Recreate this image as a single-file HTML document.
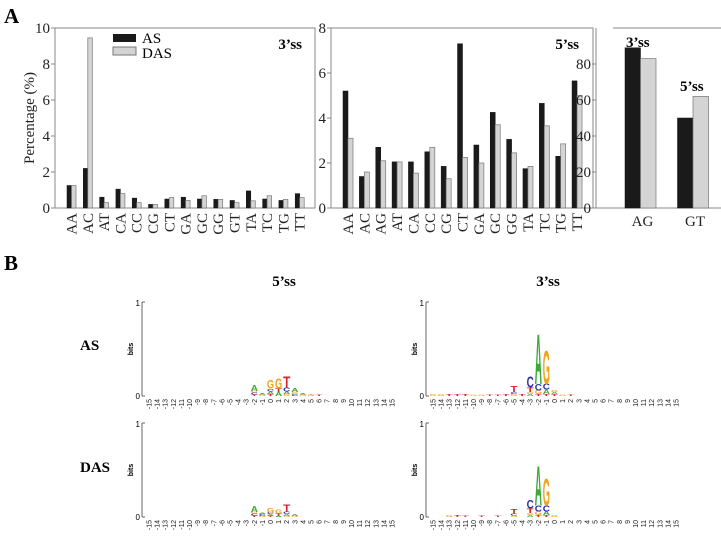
<!DOCTYPE html>
<html><head><meta charset="utf-8"><style>
html,body{margin:0;padding:0;background:#fff}
svg{display:block}
.s{font-family:"Liberation Serif",serif}
.a{font-family:"Liberation Sans",sans-serif}
</style></head><body>
<svg id="fig" width="721" height="541" viewBox="0 0 721 541" xmlns="http://www.w3.org/2000/svg">
<text class="s" x="4" y="23" font-size="21" font-weight="bold">A</text>
<text class="s" x="4" y="270" font-size="21" font-weight="bold">B</text>
<g id="chartL"></g>
<g id="chartM"></g>
<g id="chartR"></g>
<g id="logos"></g>
</svg>
<script>
const NS="http://www.w3.org/2000/svg";
const cats3=["AA","AC","AT","CA","CC","CG","CT","GA","GC","GG","GT","TA","TC","TG","TT"];
const as3=[1.25,2.2,0.6,1.05,0.55,0.2,0.5,0.6,0.5,0.48,0.42,0.95,0.5,0.42,0.8];
const das3=[1.25,9.45,0.3,0.8,0.3,0.2,0.58,0.42,0.68,0.48,0.3,0.4,0.68,0.48,0.58];
const ticks3=[0,2,4,6,8,10];
const cats5=["AA","AC","AG","AT","CA","CC","CG","CT","GA","GC","GG","TA","TC","TG","TT"];
const as5=[5.2,1.4,2.7,2.05,2.05,2.5,1.85,7.3,2.8,4.25,3.05,1.75,4.65,2.3,5.65];
const das5=[3.1,1.6,2.1,2.05,1.55,2.7,1.3,2.25,2.0,3.7,2.45,1.85,3.65,2.85,5.0];
const ticks5=[0,2,4,6,8];
const catsR=["AG","GT"];
const asR=[89,50];
const dasR=[83,62];
const ticksR=[0,20,40,60,80];
// logo stacks: position -> list of [letter, bits] bottom to top
const logoAS5={"-2":[["T",0.015],["C",0.02],["G",0.02],["A",0.06]],"-1":[["G",0.015],["A",0.015]],"0":[["T",0.02],["A",0.03],["C",0.03],["G",0.09]],"1":[["A",0.04],["T",0.04],["G",0.11]],"2":[["G",0.02],["A",0.03],["C",0.04],["T",0.12]],"3":[["C",0.02],["G",0.02],["A",0.04]],"4":[["G",0.015],["A",0.01]],"5":[["G",0.01],["T",0.005]],"6":[["T",0.01]]};
const logoAS3={"-15":[["G",0.02]],"-14":[["G",0.02]],"-13":[["T",0.02]],"-12":[["T",0.02]],"-11":[["T",0.02]],"-10":[["G",0.01]],"-9":[["G",0.01]],"-8":[["T",0.01]],"-7":[["T",0.015]],"-6":[["T",0.02]],"-5":[["G",0.02],["C",0.02],["T",0.06]],"-4":[["T",0.02]],"-3":[["A",0.02],["G",0.02],["T",0.05],["C",0.12]],"-2":[["T",0.02],["G",0.04],["C",0.07],["A",0.55]],"-1":[["T",0.02],["A",0.05],["C",0.06],["G",0.37]],"0":[["T",0.02],["A",0.02],["G",0.02]],"1":[["G",0.015]],"2":[["T",0.01]]};
const logoDAS5={"-2":[["T",0.015],["C",0.02],["G",0.02],["A",0.06]],"-1":[["G",0.01],["C",0.02],["A",0.015]],"0":[["T",0.01],["A",0.02],["C",0.02],["G",0.05]],"1":[["A",0.015],["T",0.02],["G",0.04]],"2":[["G",0.01],["A",0.02],["C",0.03],["T",0.08]],"3":[["G",0.01],["A",0.02]]};
const logoDAS3={"-13":[["G",0.02]],"-12":[["T",0.02]],"-11":[["T",0.01]],"-9":[["T",0.01]],"-7":[["T",0.01]],"-5":[["G",0.015],["C",0.02],["T",0.05]],"-3":[["A",0.02],["G",0.02],["T",0.05],["C",0.09]],"-2":[["T",0.02],["G",0.04],["C",0.06],["A",0.43]],"-1":[["T",0.02],["A",0.04],["C",0.06],["G",0.3]],"0":[["G",0.02]]};
const posLabels=[-15,-14,-13,-12,-11,-10,-9,-8,-7,-6,-5,-4,-3,-2,-1,0,1,2,3,4,5,6,7,8,9,10,11,12,13,14,15];

function mk(parent,tag,attrs,txt){const e=document.createElementNS(NS,tag);for(const k in attrs)e.setAttribute(k,attrs[k]);if(txt!==undefined)e.textContent=txt;parent.appendChild(e);return e;}

function barChart(gid,cats,as,das,ticks,o){
  const g=document.getElementById(gid);
  const y=v=>o.y0-(v/o.max)*(o.y0-o.yTop);
  const x=i=>o.c0+o.step*i;
  if(o.box){
    const r=mk(g,'rect',{x:o.x0,y:o.yTop,width:o.x1-o.x0,height:o.y0-o.yTop,fill:'none',stroke:'#888','stroke-width':1});
    
  } else {
    mk(g,'line',{x1:o.x0,y1:o.y0,x2:o.x0,y2:o.yTop,stroke:'#888'});
    mk(g,'line',{x1:o.x0,y1:o.y0,x2:721,y2:o.y0,stroke:'#888'});
    mk(g,'line',{x1:o.x0+17,y1:o.yTop,x2:721,y2:o.yTop,stroke:'#888'});
  }
  ticks.forEach(t=>{
    mk(g,'line',{x1:o.x0-4,y1:y(t),x2:o.x0,y2:y(t),stroke:'#888'});
    const tx=mk(g,'text',{x:o.x0-5,y:y(t)+5,'text-anchor':'end','font-size':15,class:'s',fill:'#222'},String(t));
    
  });
  cats.forEach((c,i)=>{
    const b1=mk(g,'rect',{x:x(i)-o.bw,y:y(as[i]),width:o.bw,height:o.y0-y(as[i]),fill:'#1a1a1a',stroke:'#111','stroke-width':0.5});
    
    
    const b2=mk(g,'rect',{x:x(i),y:y(das[i]),width:o.bw,height:o.y0-y(das[i]),fill:'#d4d4d4',stroke:'#777','stroke-width':0.7});
    
    
    let lab;
    if(o.rot){lab=mk(g,'text',{transform:`translate(${x(i)+5},${o.y0+5}) rotate(-90)`,'text-anchor':'end','font-size':15,class:'s',fill:'#222'},c);}
    else{lab=mk(g,'text',{x:x(i)+2,y:o.y0+18,'text-anchor':'middle','font-size':15,class:'s',fill:'#222'},c);}
    
    
  });
}
barChart('chartL',cats3,as3,das3,ticks3,{x0:55,x1:315,y0:208,yTop:28,max:10,c0:71.5,step:16.3,bw:4.5,box:true,rot:true});
barChart('chartM',cats5,as5,das5,ticks5,{x0:331,x1:593,y0:208,yTop:28,max:8,c0:348,step:16.36,bw:5,box:true,rot:true});
barChart('chartR',catsR,asR,dasR,ticksR,{x0:596,y0:208,yTop:28,max:100,c0:640.5,step:52.5,bw:15.5,box:false,rot:false});

(function(){
  const g=document.getElementById('chartL');
  let e=mk(g,'rect',{x:113,y:34,width:23,height:8,fill:'#1a1a1a'});
  e=mk(g,'text',{x:142,y:43,'font-size':15,class:'s'},'AS');
  e=mk(g,'rect',{x:113,y:47,width:23,height:8,fill:'#d4d4d4',stroke:'#777'});
  e=mk(g,'text',{x:142,y:58,'font-size':15,class:'s'},'DAS');
  e=mk(g,'text',{x:302,y:49,'font-size':15,'font-weight':'bold','text-anchor':'end',class:'s'},'3’ss');
  e=mk(g,'text',{transform:'translate(34,118) rotate(-90)','font-size':15,'text-anchor':'middle',class:'s',fill:'#222'},'Percentage (%)');
  const m=document.getElementById('chartM');
  e=mk(m,'text',{x:579,y:49,'font-size':15,'font-weight':'bold','text-anchor':'end',class:'s'},'5’ss');
  const r=document.getElementById('chartR');
  e=mk(r,'text',{x:626,y:47,'font-size':15,'font-weight':'bold',class:'s'},'3’ss');
  e=mk(r,'text',{x:680,y:91,'font-size':15,'font-weight':'bold',class:'s'},'5’ss');
})();

const COL={A:'#3aaa35',C:'#2e2ea8',G:'#f3a31b',T:'#d8232a'};
function logo(ax,y0,data,name){
  const g=mk(document.getElementById('logos'),'g',{});
  
  
  const H=94, x0=ax+7, step=8.1, w=7.2;
  mk(g,'line',{x1:ax,y1:y0,x2:ax,y2:y0-H,stroke:'#666'});
  mk(g,'line',{x1:ax,y1:y0-H,x2:ax+3,y2:y0-H,stroke:'#666'});
  mk(g,'line',{x1:ax,y1:y0,x2:ax+3,y2:y0,stroke:'#666'});
  let e=mk(g,'text',{x:ax-2,y:y0-H+4,'text-anchor':'end','font-size':8,class:'a'},'1');
  e=mk(g,'text',{x:ax-2,y:y0+3,'text-anchor':'end','font-size':8,class:'a'},'0');
  e=mk(g,'text',{transform:`translate(${ax-9},${y0-H/2}) rotate(-90)`,'text-anchor':'middle','font-size':7,'font-weight':'bold',class:'a'},'bits');
  posLabels.forEach((p,i)=>{
    const t=mk(g,'text',{transform:`translate(${x0+i*step+2.5},${y0+3}) rotate(-90)`,'text-anchor':'end','font-size':7,class:'a',fill:'#222'},String(p));
    
    
  });
  for(const k in data){
    const i=posLabels.indexOf(+k);let yb=y0;
    data[k].forEach(([ch,b])=>{
      const h=b*H; if(h<=0)return;
      const t=mk(g,'text',{x:0,y:0,'font-size':100,'font-weight':'bold',class:'a',fill:COL[ch],textLength:66,lengthAdjust:'spacingAndGlyphs',transform:`translate(${x0+i*step-w/2},${yb}) scale(${w/66},${h/72})`},ch);
      
      
      yb-=h;
    });
  }
}
logo(142,396,logoAS5,'logo-as-5ss');
logo(426,396,logoAS3,'logo-as-3ss');
logo(142,517,logoDAS5,'logo-das-5ss');
logo(426,517,logoDAS3,'logo-das-3ss');
(function(){
  const g=document.getElementById('logos');
  let e=mk(g,'text',{x:284,y:286,'font-size':15,'font-weight':'bold','text-anchor':'middle',class:'s'},'5’ss');
  e=mk(g,'text',{x:548,y:286,'font-size':15,'font-weight':'bold','text-anchor':'middle',class:'s'},'3’ss');
  e=mk(g,'text',{x:80,y:350,'font-size':15,'font-weight':'bold',class:'s'},'AS');
  e=mk(g,'text',{x:80,y:472,'font-size':15,'font-weight':'bold',class:'s'},'DAS');
})();
</script>
</body></html>
